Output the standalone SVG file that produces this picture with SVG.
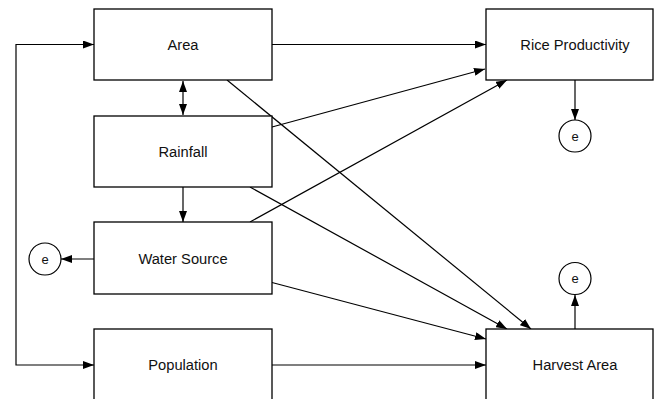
<svg xmlns="http://www.w3.org/2000/svg" width="654" height="399" viewBox="0 0 654 399">
<defs>
<marker id="ah" viewBox="0 0 11 8" refX="11" refY="4" markerWidth="11" markerHeight="8" markerUnits="userSpaceOnUse" orient="auto-start-reverse">
<path d="M0,0 L11,4 L0,8 Z" fill="#000"/>
</marker>
<style>
.box{fill:#fff;stroke:#000;stroke-width:1.3}
.lbl{font-family:"Liberation Sans",Arial,Helvetica,sans-serif;font-size:14.7px;fill:#111;text-anchor:middle}
.el{font-family:"Liberation Sans",Arial,Helvetica,sans-serif;font-size:13px;fill:#111;text-anchor:middle}
.c{fill:none;stroke:#000;stroke-width:1.2}
.arr{fill:none;stroke:#000;stroke-width:1.2;marker-end:url(#ah)}
.both{marker-start:url(#ah)}
</style>
</defs>
<rect width="654" height="399" fill="#fff"/>
<g id="connectors">
<polyline class="arr both" points="94,365 16,365 16,44.5 94,44.5"/>
<line class="arr" x1="272" y1="44.5" x2="486" y2="44.5"/>
<line class="arr both" x1="183" y1="81" x2="183" y2="115"/>
<line class="arr" x1="183" y1="187" x2="183" y2="222"/>
<line class="arr" x1="94" y1="259" x2="61" y2="259"/>
<line class="arr" x1="575" y1="80" x2="575" y2="120"/>
<line class="arr" x1="575" y1="329" x2="575" y2="295"/>
<line class="arr" x1="272" y1="127" x2="485" y2="69"/>
<line class="arr" x1="250" y1="222" x2="507" y2="80"/>
<line class="arr" x1="227" y1="80" x2="531" y2="329"/>
<line class="arr" x1="250" y1="187" x2="507" y2="329"/>
<line class="arr" x1="272" y1="282.5" x2="486" y2="339"/>
<line class="arr" x1="272" y1="365" x2="486" y2="365"/>
</g>
<g id="area"><rect class="box" x="94" y="9" width="178" height="71"/><text class="lbl" x="183" y="49.5">Area</text></g>
<g id="rainfall"><rect class="box" x="94" y="116" width="178" height="71"/><text class="lbl" x="183" y="156.5">Rainfall</text></g>
<g id="water-source"><rect class="box" x="94" y="222" width="178" height="72"/><text class="lbl" x="183" y="263.5">Water Source</text></g>
<g id="population"><rect class="box" x="94" y="329" width="178" height="80"/><text class="lbl" x="183" y="370">Population</text></g>
<g id="rice-productivity"><rect class="box" x="486" y="9" width="167" height="71"/><text class="lbl" x="575" y="49.5">Rice Productivity</text></g>
<g id="harvest-area"><rect class="box" x="486" y="329" width="167" height="80"/><text class="lbl" x="575" y="370">Harvest Area</text></g>
<g id="e-water"><circle class="c" cx="45" cy="259" r="16"/><text class="el" x="45" y="263.5">e</text></g>
<g id="e-rice"><circle class="c" cx="575" cy="136" r="16"/><text class="el" x="575" y="140.5">e</text></g>
<g id="e-harvest"><circle class="c" cx="575" cy="278.5" r="16"/><text class="el" x="575" y="283">e</text></g>
</svg>
